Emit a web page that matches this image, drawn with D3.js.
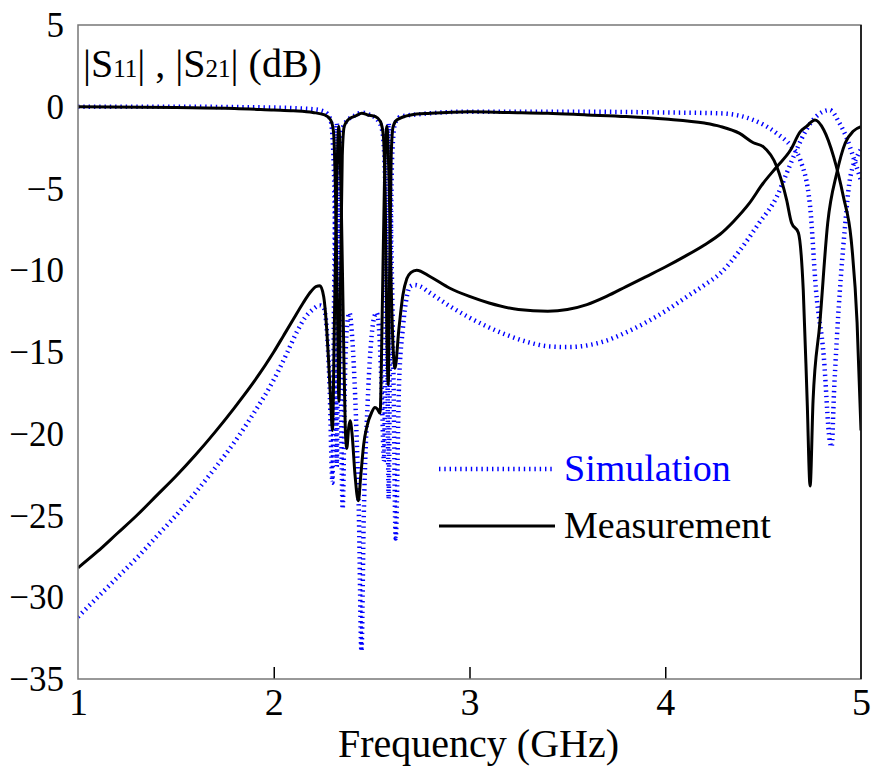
<!DOCTYPE html>
<html>
<head>
<meta charset="utf-8">
<script src="https://cdn.jsdelivr.net/npm/d3@7"></script>
<style>
  body { margin: 0; background: #fff; }
  svg text { font-family: "Liberation Serif", "DejaVu Serif", Tinos, "Times New Roman", Times, "Nimbus Roman", FreeSerif, serif; }
</style>
</head>
<body>
<div id="chart"></div>
<script>
// Data: [frequency GHz, dB]
const xTicks = [1, 2, 3, 4, 5];
const yTicks = [5, 0, -5, -10, -15, -20, -25, -30, -35];
const legendLabels = ["Simulation", "Measurement"];

const simS21 = [
  [1, 0], [1.5, 0], [2.0, -0.05], [2.2, -0.15], [2.26, -0.3], [2.29, -0.8],
  [2.305, -3], [2.315, -10], [2.322, -22], [2.33, -10], [2.34, -3], [2.355, -1.2],
  [2.38, -0.8], [2.42, -0.5], [2.45, -0.35], [2.49, -0.5], [2.53, -0.8], [2.555, -1.5],
  [2.57, -5], [2.58, -14], [2.587, -24], [2.595, -12], [2.605, -3], [2.62, -1.0],
  [2.65, -0.6], [2.75, -0.45], [3.0, -0.3], [3.5, -0.3], [4.0, -0.35], [4.28, -0.4],
  [4.45, -0.81], [4.57, -1.63], [4.645, -2.44], [4.69, -3.26], [4.74, -6.1],
  [4.77, -11.2], [4.81, -15.3], [4.84, -20.4], [4.85, -20.8], [4.862, -17.5],
  [4.876, -14.3], [4.92, -7.1], [4.94, -4.7], [4.98, -3.05], [5.0, -2.6]
];

const simS11 = [
  [1, -31.2], [1.1, -30.0], [1.2, -28.8], [1.3, -27.6], [1.4, -26.3], [1.5, -25.0],
  [1.6, -23.6], [1.7, -22.1], [1.8, -20.5], [1.9, -18.7], [2.0, -16.7], [2.03, -16.0],
  [2.07, -15.0], [2.117, -13.8], [2.16, -12.9], [2.2, -12.4], [2.235, -12.15],
  [2.255, -12.3], [2.27, -13.5], [2.285, -17], [2.30, -23.0], [2.308, -12],
  [2.315, -5], [2.322, -1.0], [2.33, -5], [2.34, -14], [2.352, -24.6], [2.365, -16],
  [2.378, -13], [2.387, -12.6], [2.40, -14], [2.42, -19], [2.435, -25], [2.448, -33.3],
  [2.46, -25], [2.48, -18], [2.50, -14], [2.515, -12.8], [2.526, -12.6], [2.54, -14],
  [2.553, -18], [2.563, -21.7], [2.572, -12], [2.58, -4], [2.587, -1.0], [2.595, -5],
  [2.61, -15], [2.623, -26.4], [2.64, -17], [2.66, -13.5], [2.68, -11.6], [2.696, -11.0],
  [2.72, -10.9], [2.75, -11.0], [2.80, -11.4], [2.90, -12.2], [3.0, -12.9], [3.1, -13.5],
  [3.2, -14.0], [3.3, -14.4], [3.4, -14.65], [3.5, -14.7], [3.6, -14.6], [3.7, -14.3],
  [3.8, -13.8], [3.9, -13.2], [4.0, -12.5], [4.1, -11.7], [4.2, -10.9], [4.28, -10.2],
  [4.38, -8.8], [4.48, -7.1], [4.57, -5.5], [4.62, -4.07], [4.67, -2.65], [4.72, -1.42],
  [4.77, -0.61], [4.84, -0.2], [4.89, -1.0], [4.93, -2.0], [4.96, -3.05], [5.0, -4.5]
];

const measS21 = [
  [1, 0], [1.5, -0.05], [1.8, -0.1], [2.0, -0.2], [2.1, -0.25], [2.2, -0.35],
  [2.26, -0.5], [2.29, -0.8], [2.305, -1.5], [2.315, -5], [2.325, -12], [2.333, -18],
  [2.342, -10], [2.35, -3], [2.36, -1.2], [2.38, -0.8], [2.42, -0.55], [2.45, -0.4],
  [2.48, -0.5], [2.52, -0.6], [2.545, -0.9], [2.56, -1.8], [2.57, -6], [2.578, -14],
  [2.585, -17], [2.592, -10], [2.60, -3], [2.61, -1.2], [2.63, -0.8], [2.70, -0.5],
  [2.80, -0.4], [3.0, -0.3], [3.2, -0.35], [3.4, -0.4], [3.6, -0.5], [3.8, -0.6],
  [4.0, -0.75], [4.2, -1.0], [4.28, -1.2], [4.38, -1.63], [4.45, -2.2], [4.50, -2.44],
  [4.57, -3.67], [4.62, -5.7], [4.645, -7.1], [4.68, -7.7], [4.705, -11.2],
  [4.725, -18], [4.74, -23.2], [4.755, -18], [4.79, -13.2], [4.83, -7.1],
  [4.876, -4.07], [4.92, -2.2], [4.96, -1.5], [5.0, -1.22]
];

const measS11 = [
  [1.00, -28.2], [1.10, -27.2], [1.20, -26.1], [1.30, -25.0], [1.40, -23.8],
  [1.50, -22.6], [1.60, -21.3], [1.70, -19.9], [1.80, -18.4], [1.90, -16.8],
  [2.00, -15.0], [2.05, -14.0], [2.10, -13.0], [2.15, -12.0], [2.19, -11.3],
  [2.215, -11.0], [2.236, -10.95], [2.255, -11.6], [2.27, -13.5], [2.28, -15.5],
  [2.29, -17.8], [2.30, -19.8], [2.31, -13], [2.32, -6], [2.332, -1.2], [2.345, -6],
  [2.355, -13], [2.365, -19.5], [2.373, -20.9], [2.383, -19.6], [2.39, -19.2],
  [2.40, -20.0], [2.415, -22.5], [2.432, -24.1], [2.445, -22.5], [2.46, -20.6],
  [2.475, -19.6], [2.50, -18.7], [2.517, -18.4], [2.53, -18.5], [2.543, -18.75],
  [2.555, -12], [2.565, -5], [2.578, -1.2], [2.59, -5], [2.60, -11], [2.619, -16.0],
  [2.64, -13.5], [2.66, -11.5], [2.68, -10.5], [2.70, -10.15], [2.73, -10.0],
  [2.80, -10.4], [2.90, -11.1], [3.00, -11.6], [3.10, -12.0], [3.25, -12.4],
  [3.40, -12.5], [3.50, -12.4], [3.60, -12.1], [3.70, -11.6], [3.80, -11.0],
  [3.90, -10.4], [4.00, -9.8], [4.10, -9.15], [4.20, -8.45], [4.28, -7.8], [4.35, -7.0],
  [4.43, -5.9], [4.50, -4.68], [4.57, -3.67], [4.64, -2.65], [4.69, -1.52],
  [4.72, -1.22], [4.765, -0.81], [4.81, -1.42], [4.86, -3.05], [4.91, -5.5],
  [4.95, -8.15], [4.98, -13.2], [5.00, -19.8]
];

function draw() {
  // Dimensions
  const dimensions = {
    width: 872,
    height: 775,
    left: 78,
    right: 11,
    top: 25,
    bottom: 96,
  };
  dimensions.ctrWidth = dimensions.width - dimensions.left - dimensions.right;
  dimensions.ctrHeight = dimensions.height - dimensions.top - dimensions.bottom;

  const serif =
    '"Liberation Serif", "DejaVu Serif", Tinos, "Times New Roman", Times, "Nimbus Roman", FreeSerif, serif';

  const svg = d3
    .select("#chart")
    .append("svg")
    .attr("width", dimensions.width)
    .attr("height", dimensions.height)
    .style("font-family", serif);

  const ctr = svg
    .append("g")
    .attr("transform", `translate(${dimensions.left}, ${dimensions.top})`);

  // Scales
  const xScale = d3.scaleLinear().domain([1, 5]).range([0, dimensions.ctrWidth]);
  const yScale = d3.scaleLinear().domain([-35, 5]).range([dimensions.ctrHeight, 0]);

  ctr
    .append("clipPath")
    .attr("id", "clip")
    .append("rect")
    .attr("width", dimensions.ctrWidth)
    .attr("height", dimensions.ctrHeight);

  // line generator
  const lineGenerator = d3
    .line()
    .x((d) => xScale(d[0]))
    .y((d) => yScale(d[1]))
    .curve(d3.curveMonotoneX);

  const plot = ctr.append("g").attr("clip-path", "url(#clip)");

  // simulation (blue dotted)
  [simS21, simS11].forEach((series) => {
    plot
      .append("path")
      .datum(series)
      .attr("d", lineGenerator)
      .attr("fill", "none")
      .attr("stroke", "#0000ff")
      .attr("stroke-width", 4.5)
      .attr("stroke-dasharray", "1.4,3.9");
  });

  // measurement (black solid)
  [measS21, measS11].forEach((series) => {
    plot
      .append("path")
      .datum(series)
      .attr("d", lineGenerator)
      .attr("fill", "none")
      .attr("stroke", "#000")
      .attr("stroke-width", 3)
      .attr("stroke-linejoin", "round");
  });

  // Axes
  const xAxis = d3
    .axisBottom(xScale)
    .tickValues(xTicks)
    .tickFormat(d3.format("d"))
    .tickSize(0)
    .tickPadding(0);
  const gX = ctr
    .append("g")
    .attr("transform", `translate(0, ${dimensions.ctrHeight})`)
    .call(xAxis)
    .attr("font-family", null);
  gX.select(".domain").remove();
  gX.selectAll(".tick text")
    .attr("y", 36)
    .attr("dy", 0)
    .style("font-family", serif)
    .style("font-size", "38px")
    .style("fill", "#000");
  // inner tick marks
  gX.selectAll(".tick")
    .filter((d) => d !== 1 && d !== 5)
    .append("line")
    .attr("y1", 0)
    .attr("y2", -12)
    .attr("stroke", "#000")
    .attr("stroke-width", 1.5);

  const yAxis = d3.axisLeft(yScale).tickValues(yTicks).tickSize(0).tickPadding(14);
  const gY = ctr.append("g").call(yAxis).attr("font-family", null);
  gY.select(".domain").remove();
  gY.selectAll(".tick text")
    .attr("dy", "0.33em")
    .style("font-family", serif)
    .style("font-size", "35px")
    .style("fill", "#000");

  // frame
  ctr
    .append("rect")
    .attr("width", dimensions.ctrWidth)
    .attr("height", dimensions.ctrHeight)
    .attr("fill", "none")
    .attr("stroke", "#777")
    .attr("stroke-width", 1.5);
  ctr
    .append("line")
    .attr("x1", dimensions.ctrWidth)
    .attr("x2", dimensions.ctrWidth)
    .attr("y1", 0)
    .attr("y2", dimensions.ctrHeight)
    .attr("stroke", "#000")
    .attr("stroke-width", 1.5);

  // title inside the plot
  const title = ctr
    .append("text")
    .attr("x", 5)
    .attr("y", 52)
    .style("font-family", serif)
    .style("font-size", "40px")
    .style("fill", "#000");
  title.append("tspan").text("|S");
  title.append("tspan").text("11").style("font-size", "25px");
  title.append("tspan").text("| , |S");
  title.append("tspan").text("21").style("font-size", "25px");
  title.append("tspan").text("| (dB)");

  // x label
  svg
    .append("text")
    .attr("x", dimensions.left + dimensions.ctrWidth / 2 + 9)
    .attr("y", 757)
    .attr("text-anchor", "middle")
    .style("font-family", serif)
    .style("font-size", "40px")
    .style("fill", "#000")
    .text("Frequency (GHz)");

  // Legend
  const legend = svg.append("g").attr("transform", "translate(439, 469)");
  const legendItems = [
    { label: legendLabels[0], color: "#0000ff", dash: "1.4,3.9", width: 4.5 },
    { label: legendLabels[1], color: "#000", dash: null, width: 3 },
  ];
  legendItems.forEach((item, i) => {
    const g = legend.append("g").attr("transform", `translate(0, ${i * 57})`);
    g.append("line")
      .attr("x1", 0)
      .attr("x2", 116)
      .attr("stroke", item.color)
      .attr("stroke-width", item.width)
      .attr("stroke-dasharray", item.dash);
    g.append("text")
      .attr("x", 125)
      .attr("y", 12)
      .style("font-family", serif)
      .style("font-size", "38px")
      .style("fill", item.color)
      .text(item.label);
  });
}

draw();
</script>
</body>
</html>
